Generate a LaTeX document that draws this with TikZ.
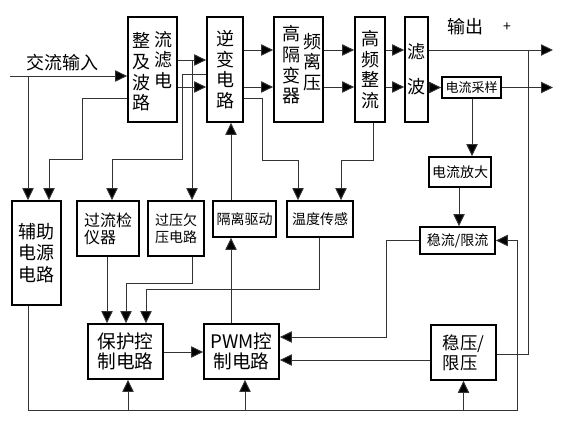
\documentclass[tikz,border=0pt]{standalone}
\usepackage{fontspec}
\setmainfont{Noto Sans CJK SC}
\usetikzlibrary{arrows.meta,positioning}

\begin{document}
\begin{tikzpicture}[x=0.75pt,y=-0.75pt,
   blk/.style={draw,line width=1.3pt,inner sep=0pt},
   sz/.style 2 args={minimum width=#1*0.75pt,minimum height=#2*0.75pt},
   big/.style={align=center,inner sep=0pt,font=\fontsize{13.5}{15.5}\selectfont},
   mid/.style={align=center,inner sep=0pt,font=\fontsize{10.5}{12.75}\selectfont},
   ln/.style={line width=0.7pt,draw=black!80},
   arr/.style={ln,-{Triangle[length=9pt,width=8.5pt,fill=black]}}]
   \useasboundingbox (0,0) rectangle (566,427);
   \node[blk,sz={49}{105}] (zl) at (152.5,69.5) {};
   \node[big] (zl1) at (141,72) {整\\及\\波\\路};
   \node[big] (zl2) at (163,60) {流\\滤\\电};
   \node[blk,big,sz={36}{105}] (nb) at (225,69.5) {逆\\变\\电\\路};
   \node[blk,sz={49}{105}] (gl) at (298.5,69.5) {};
   \node[big] (gl1) at (291,65) {高\\隔\\变\\器};
   \node[big] (gl2) at (312,62) {频\\离\\压};
   \node[blk,big,sz={30}{105}] (gz) at (370,69.5) {高\\频\\整\\流};
   \node[blk,big,sz={23}{105},font=\fontsize{13.5}{26}\selectfont] (lb) at (416.5,69.5) {滤\\波};
   \node[blk,mid,sz={59}{21},font=\fontsize{9.75}{12}\selectfont] (cy) at (471.5,87.5) {电流采样};
   \node[blk,mid,sz={62}{30}] (fd) at (460,172) {电流放大};
   \node[blk,big,sz={49}{104},font=\fontsize{13.5}{16}\selectfont] (fz) at (36.5,253) {辅助\\电源\\电路};
   \node[blk,sz={62}{55},align=left,inner sep=0pt,font=\fontsize{12}{12.75}\selectfont] (gljc) at (108,228.5) {过流检\\仪器};
   \node[blk,mid,sz={56}{55}] (gy) at (176,228.5) {过压欠\\压电路};
   \node[blk,mid,sz={63}{36}] (gq) at (244.5,219) {隔离驱动};
   \node[blk,mid,sz={66}{36}] (wd) at (320,219) {温度传感};
   \node[blk,mid,sz={75}{27}] (wl) at (457.5,240.5) {稳流/限流};
   \node[blk,big,sz={75}{55},font=\fontsize{14}{15}\selectfont] (bh) at (125.5,351.5) {保护控\\制电路};
   \node[blk,big,sz={75}{55},font=\fontsize{14}{15}\selectfont] (pwm) at (241.5,351.5) {PWM控\\制电路};
   \node[blk,sz={65}{55},align=left,inner sep=0pt,font=\fontsize{13}{15}\selectfont] (wy) at (463.5,352.5) {稳压/\\限压};
   \node[big] (acin) at (62,63) {交流输入};
   \node[big] (out) at (465,27) {输出};
   \node[mid] (plus) at (507,27) {+};
   \coordinate (in) at (10,76);
   \coordinate (j1) at (192,60);
   \coordinate (j2) at (528,50);
   \coordinate (o1) at (553,50);
   \coordinate (o2) at (553,87.5);
   \draw[arr] (in) -- (zl.west |- in);
   \draw[arr] (in -| 28,0) -- (fz.north -| 28,0);
   \draw[arr] (zl.west |- 0,98) -| (82,159) -| (fz.north -| 49,0);
   \draw[arr] (zl.east |- 0,60) -- (nb.west |- 0,60);
   \draw[arr] (zl.east |- 0,87) -- (nb.west |- 0,87);
   \draw[arr] (j1) -- (gy.north -| j1);
   \draw[arr] (nb.west |- 0,74) -| (182,159) -| (gljc.north -| 112,0);
   \draw[arr] (nb.east |- 0,50) -- (gl.west |- 0,50);
   \draw[arr] (nb.east |- 0,87) -- (gl.west |- 0,87);
   \draw[arr] (nb.east |- 0,98) -| (262,160) -| (wd.north -| 298,0);
   \draw[arr] (gl.east |- 0,50) -- (gz.west |- 0,50);
   \draw[arr] (gl.east |- 0,87) -- (gz.west |- 0,87);
   \draw[arr] (gz.east |- 0,50) -- (lb.west |- 0,50);
   \draw[arr] (gz.east |- 0,87) -- (lb.west |- 0,87);
   \draw[arr] (lb.east |- o1) -- (o1);
   \draw[arr] (lb.east |- cy.west) -- (cy.west);
   \draw[arr] (cy.east) -- (o2);
   \draw[arr] (gz.south -| 373,0) |- (341,160) -- (wd.north -| 341,0);
   \draw[arr] (cy.south -| 472,0) -- (fd.north -| 472,0);
   \draw[arr] (fd.south -| 459,0) -- (wl.north -| 459,0);
   \draw[arr] (wl.west) -| (386,337) -- (pwm.east |- 0,337);
   \draw[arr] (wy.west |- 0,360) -- (pwm.east |- 0,360);
   \draw[ln] (j2) |- (wy.east |- 0,354);
   \draw[arr] (fz.south -| 28,0) |- (517,410) |- (wl.east);
   \draw[arr] (bh.south |- 0,410) ++(2.5,0) -- (bh.south -| 128,0);
   \draw[arr] (pwm.south |- 0,410) ++(3.5,0) -- (pwm.south -| 245,0);
   \draw[arr] (wy.south |- 0,410) -- (wy.south);
   \draw[arr] (wd.south -| 319,0) |- (146,289) -- (bh.north -| 146,0);
   \draw[arr] (gy.south -| 192,0) |- (126,283) -- (bh.north -| 126,0);
   \draw[arr] (gljc.south -| 107,0) -- (bh.north -| 107,0);
   \draw[arr] (bh.east |- 0,352) -- (pwm.west |- 0,352);
   \draw[arr] (pwm.north -| 231,0) -- (gq.south -| 231,0);
   \draw[arr] (gq.north -| 231,0) -- (nb.south -| 231,0);
\end{tikzpicture}
\end{document}
